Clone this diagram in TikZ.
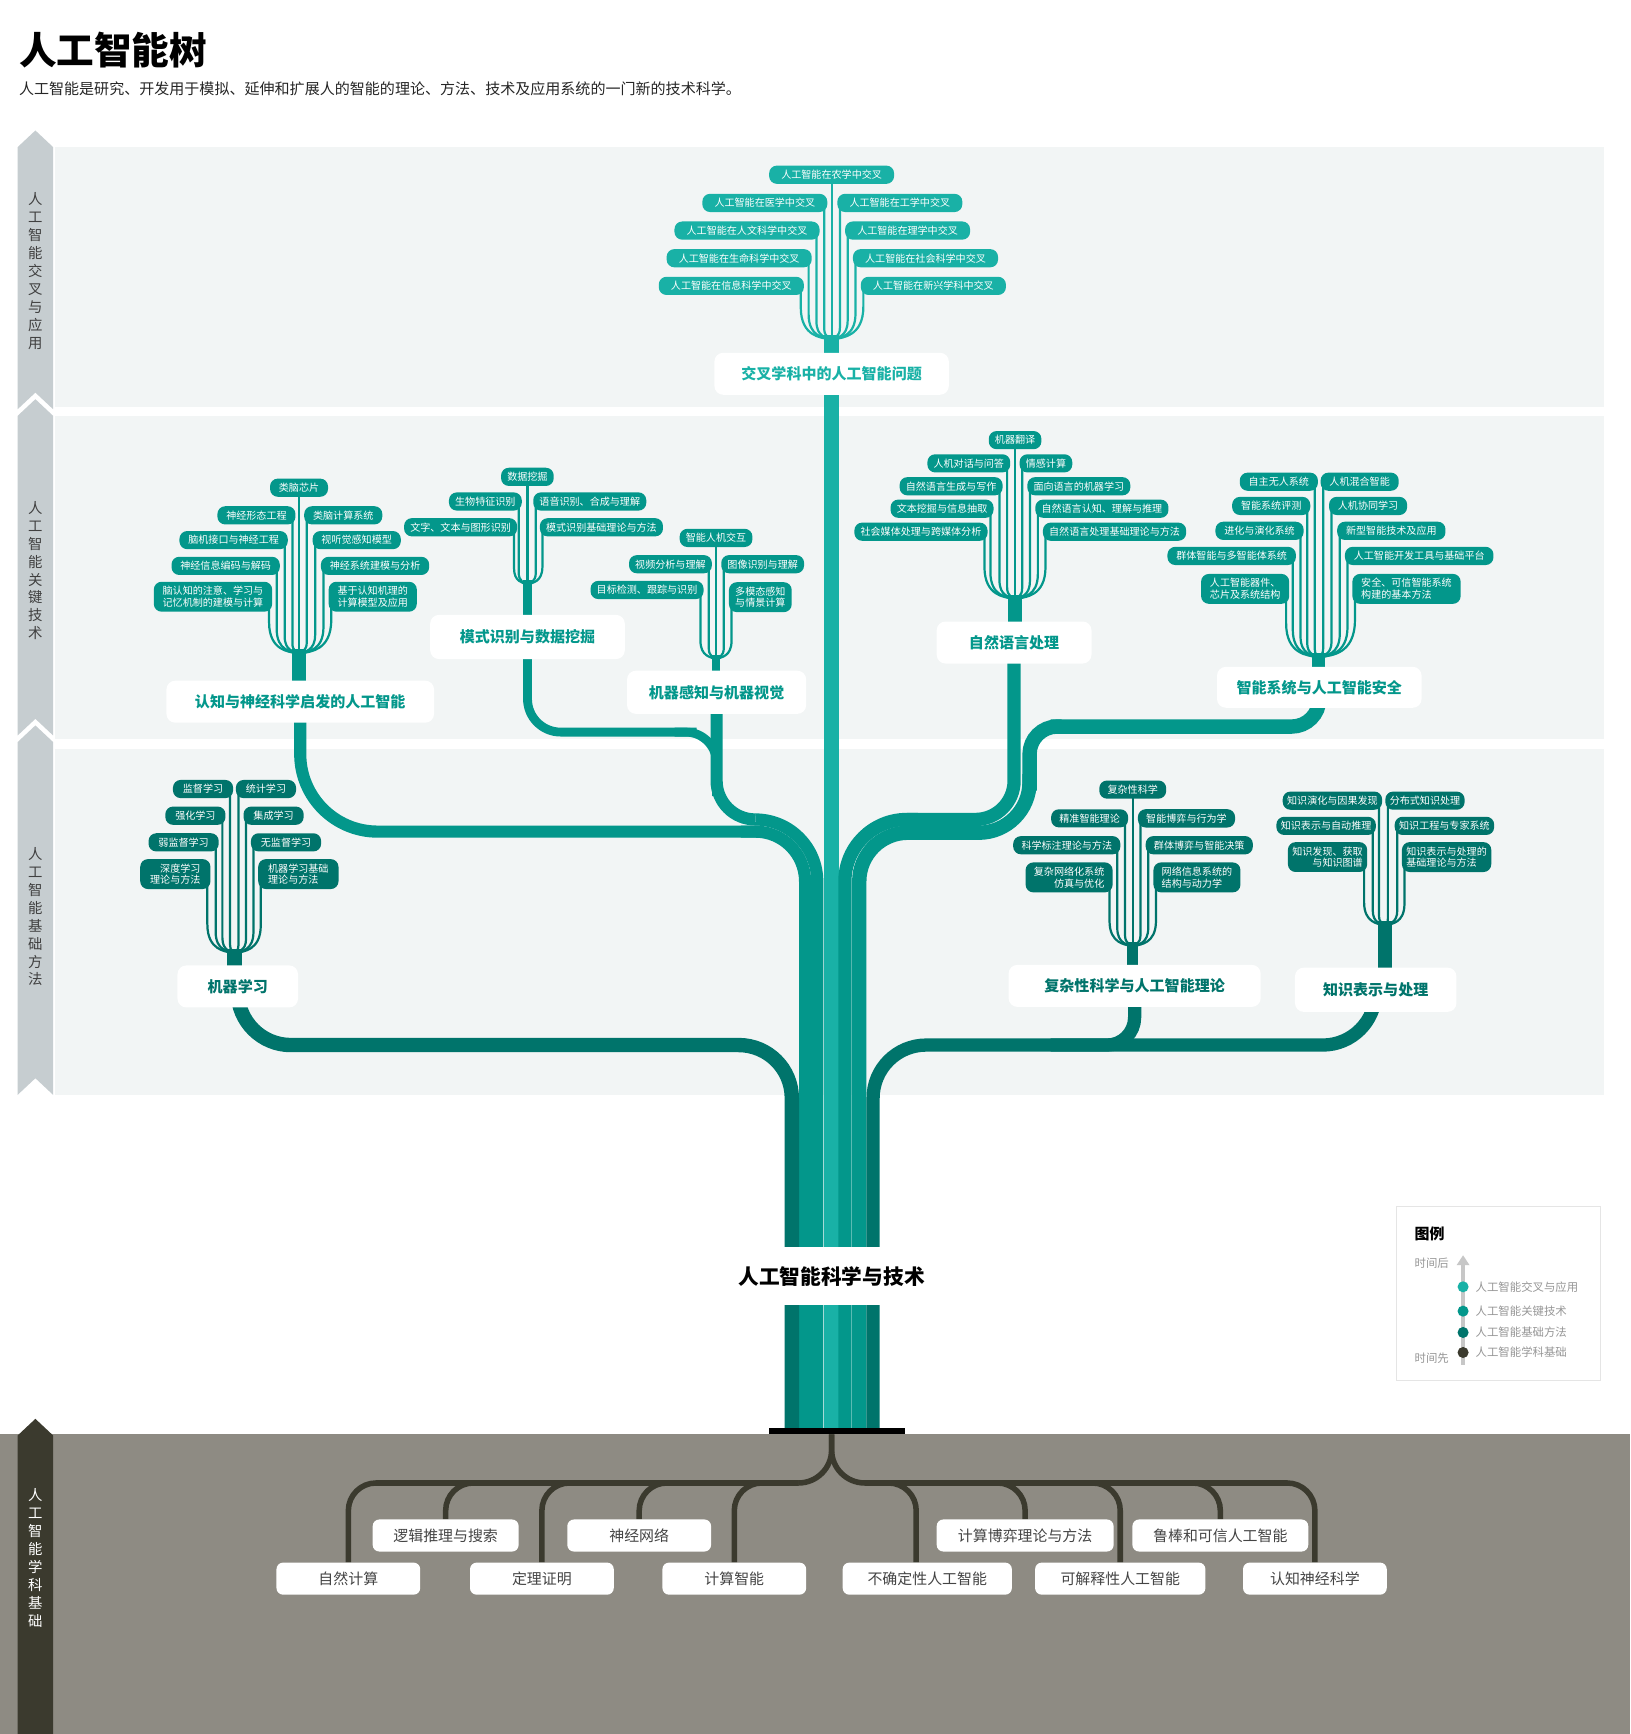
\documentclass[tikz,border=0pt]{standalone}
\usepackage{fontspec}
\setmainfont{Noto Sans CJK SC}
\usepackage{xcolor}
\usepackage{tikz}
\usetikzlibrary{arrows.meta,positioning,calc}
\definecolor{lteal}{RGB}{25,177,166}
\definecolor{mteal}{RGB}{3,151,139}
\definecolor{dteal}{RGB}{0,116,107}
\definecolor{rootcol}{RGB}{59,58,46}
\definecolor{groundcol}{RGB}{142,139,131}
\definecolor{bandcol}{RGB}{242,245,245}
\definecolor{sidecol}{RGB}{198,205,208}
\definecolor{roottext}{RGB}{68,68,68}
\definecolor{legendgray}{RGB}{150,150,150}
\pgfdeclarelayer{bg}
\pgfdeclarelayer{back}
\pgfsetlayers{bg,back,main}
\tikzset{
  twig/.style={fill=#1,text=white,rounded corners=7pt,font=\fontsize{9.1}{10.6}\selectfont,
    inner xsep=8pt,inner ysep=4pt,minimum height=16pt,align=center},
  lefttwig/.style={twig=#1,anchor=east,align=right},
  righttwig/.style={twig=#1,anchor=west,align=left},
  groupbox/.style={fill=white,text=#1,rounded corners=8pt,
    font=\fontsize{13.6}{16}\selectfont\bfseries,minimum height=38pt},
  rootbox/.style={fill=white,text=roottext,rounded corners=6pt,
    font=\fontsize{13.5}{16}\selectfont,minimum height=29pt,minimum width=130pt},
  twigline/.style={draw=#1,line width=2pt},
  branch/.style={draw=#1,line cap=butt},
  rootline/.style={draw=rootcol,line width=5pt,rounded corners=25pt}
}
\newcommand{\fanline}[3]{%
  \draw[twigline=#1] let \p1=#2, \p2=(#3), \n1={abs(\x1-\x2)} in
    (\x1,\y1) -- (\x1,{\y2+0.9*\n1+2pt})
    .. controls (\x1,\y2) and ({\x2+0.3*(\x1-\x2)},\y2) .. ({\x2+0.15*(\x1-\x2)},{\y2-1.5pt});}
\newcommand{\fanL}[3]{\fanline{#1}{([xshift=-3pt]#2.east)}{#3}}
\newcommand{\fanR}[3]{\fanline{#1}{([xshift=2.5pt]#2.west)}{#3}}
\newcommand{\fanC}[3]{\fanline{#1}{(#2.center)}{#3}}

\begin{document}
\begin{tikzpicture}[x=1pt,y=-1pt,
  sidetext/.style={font=\fontsize{13}{16.2}\selectfont,align=center,inner sep=0pt},
  legendtext/.style={font=\fontsize{10.3}{12}\selectfont,text=legendgray,inner sep=0pt,anchor=west},
  legenddot/.style={circle,fill=#1,minimum size=10pt,inner sep=0pt}
]
  \useasboundingbox (0,0) rectangle (1474,1568);

  \node[anchor=west,inner sep=0pt,font=\fontsize{34}{40}\selectfont\bfseries] (title) at (17,45) {人工智能树};
  \node[anchor=west,inner sep=0pt,font=\fontsize{13.6}{16}\selectfont,text=black!85] (subtitle) at (17,80)
    {人工智能是研究、开发用于模拟、延伸和扩展人的智能的理论、方法、技术及应用系统的一门新的技术科学。};

  \node[sidetext,text=black!75] (side1) at (32,245) {人\\工\\智\\能\\交\\叉\\与\\应\\用};
  \node[sidetext,text=black!75] (side2) at (32,516) {人\\工\\智\\能\\关\\键\\技\\术};
  \node[sidetext,text=black!75] (side3) at (32,829) {人\\工\\智\\能\\基\\础\\方\\法};
  \node[sidetext,text=white] (side4) at (32,1409) {人\\工\\智\\能\\学\\科\\基\\础};

  % group labels
  \node[groupbox=lteal,minimum width=212pt] (jc) at (752,338) {交叉学科中的人工智能问题};
  \node[groupbox=mteal,minimum width=242pt] (rz) at (271.5,634.5) {认知与神经科学启发的人工智能};
  \node[groupbox=mteal,minimum width=176pt,minimum height=40pt] (ms) at (477,576) {模式识别与数据挖掘};
  \node[groupbox=mteal,minimum width=162pt,minimum height=39pt] (gz) at (648,626) {机器感知与机器视觉};
  \node[groupbox=mteal,minimum width=140pt] (zr) at (917,581) {自然语言处理};
  \node[groupbox=mteal,minimum width=185pt,minimum height=37pt] (aq) at (1193,621.5) {智能系统与人工智能安全};
  \node[groupbox=dteal,minimum width=109pt] (jx) at (215,892) {机器学习};
  \node[groupbox=dteal,minimum width=228pt] (fz) at (1026,891.5) {复杂性科学与人工智能理论};
  \node[groupbox=dteal,minimum width=146pt,minimum height=40pt] (zs) at (1244,895) {知识表示与处理};

  \coordinate (jcs) at (752,305);
  \coordinate (rzs) at (270.4,589);
  \coordinate (mss) at (476.9,526.6);
  \coordinate (gzs) at (647.5,594);
  \coordinate (zrs) at (917.9,539.6);
  \coordinate (aqs) at (1192.5,592.3);
  \coordinate (jxs) at (212.2,860);
  \coordinate (fzs) at (1024.3,853.7);
  \coordinate (zss) at (1252.5,835);

  \begin{scope}[twig/.append style={inner xsep=11pt}]
    \node[twig=lteal] (jc0) at (752,158) {人工智能在农学中交叉};
    \node[lefttwig=lteal] (jc1) at (748.3,183.5) {人工智能在医学中交叉};
    \node[righttwig=lteal] (jc2) at (757,183.5) {人工智能在工学中交叉};
    \node[lefttwig=lteal] (jc3) at (741.3,208.5) {人工智能在人文科学中交叉};
    \node[righttwig=lteal] (jc4) at (764,208.5) {人工智能在理学中交叉};
    \node[lefttwig=lteal] (jc5) at (734.2,233.5) {人工智能在生命科学中交叉};
    \node[righttwig=lteal] (jc6) at (771.1,233.5) {人工智能在社会科学中交叉};
    \node[lefttwig=lteal] (jc7) at (727.1,258.5) {人工智能在信息科学中交叉};
    \node[righttwig=lteal] (jc8) at (778.2,258.5) {人工智能在新兴学科中交叉};
  \end{scope}

  \begin{scope}[twig/.append style={inner xsep=8pt}]
    \node[twig=mteal] (rz0) at (270.4,441) {类脑芯片};
    \node[lefttwig=mteal] (rz1) at (267.4,466) {神经形态工程};
    \node[righttwig=mteal] (rz2) at (274.9,466) {类脑计算系统};
    \node[lefttwig=mteal] (rz3) at (260.4,488.4) {脑机接口与神经工程};
    \node[righttwig=mteal] (rz4) at (282.5,488.4) {视听觉感知模型};
    \node[lefttwig=mteal] (rz5) at (253.2,511.7) {神经信息编码与解码};
    \node[righttwig=mteal] (rz6) at (290,511.7) {神经系统建模与分析};
    \node[lefttwig=mteal] (rz7) at (246.3,539.6) {脑认知的注意、学习与\\记忆机制的建模与计算};
    \node[righttwig=mteal] (rz8) at (297,539.6) {基于认知机理的\\计算模型及应用};
  \end{scope}

  \begin{scope}[twig/.append style={inner xsep=5.6pt}]
    \node[twig=mteal] (ms0) at (476.9,431.2) {数据挖掘};
    \node[lefttwig=mteal] (ms1) at (472,453.5) {生物特征识别};
    \node[righttwig=mteal] (ms2) at (482,453.5) {语音识别、合成与理解};
    \node[lefttwig=mteal] (ms3) at (467.8,476.8) {文字、文本与图形识别};
    \node[righttwig=mteal] (ms4) at (488,476.8) {模式识别基础理论与方法};
    \node[twig=mteal] (gz0) at (647.5,486.4) {智能人机交互};
    \node[lefttwig=mteal] (gz1) at (643.9,510.2) {视频分析与理解};
    \node[righttwig=mteal] (gz2) at (652,510.2) {图像识别与理解};
    \node[lefttwig=mteal] (gz3) at (636.4,533.5) {目标检测、跟踪与识别};
    \node[righttwig=mteal] (gz4) at (659,540) {多模态感知\\与情景计算};
    \node[twig=mteal] (zr0) at (917.9,398) {机器翻译};
    \node[lefttwig=mteal] (zr1) at (913.7,419) {人机对话与问答};
    \node[righttwig=mteal] (zr2) at (921.8,419) {情感计算};
    \node[lefttwig=mteal] (zr3) at (906.8,439.7) {自然语言生成与写作};
    \node[righttwig=mteal] (zr4) at (928.8,439.7) {面向语言的机器学习};
    \node[lefttwig=mteal] (zr5) at (898.6,460) {文本挖掘与信息抽取};
    \node[righttwig=mteal] (zr6) at (936,460) {自然语言认知、理解与推理};
    \node[lefttwig=mteal] (zr7) at (893.2,480.8) {社会媒体处理与跨媒体分析};
    \node[righttwig=mteal] (zr8) at (942.9,480.8) {自然语言处理基础理论与方法};
  \end{scope}

  \begin{scope}[twig/.append style={inner xsep=8pt}]
    \node[lefttwig=mteal] (aq1) at (1191.9,435.6) {自主无人系统};
    \node[righttwig=mteal] (aq2) at (1194,435.6) {人机混合智能};
    \node[lefttwig=mteal] (aq3) at (1185,457.5) {智能系统评测};
    \node[righttwig=mteal] (aq4) at (1201.6,457.5) {人机协同学习};
    \node[lefttwig=mteal] (aq5) at (1179,480) {进化与演化系统};
    \node[righttwig=mteal] (aq6) at (1209,480) {新型智能技术及应用};
    \node[lefttwig=mteal] (aq7) at (1172,502.7) {群体智能与多智能体系统};
    \node[righttwig=mteal] (aq8) at (1216,502.7) {人工智能开发工具与基础平台};
    \node[lefttwig=mteal] (aq9) at (1166,532.5) {人工智能器件、\\芯片及系统结构};
    \node[righttwig=mteal] (aq10) at (1222.7,532.5) {安全、可信智能系统\\构建的基本方法};
  \end{scope}

  \begin{scope}[twig/.append style={inner xsep=9pt}]
    \node[lefttwig=dteal] (jx1) at (211,713.5) {监督学习};
    \node[righttwig=dteal] (jx2) at (213.1,713.5) {统计学习};
    \node[lefttwig=dteal] (jx3) at (204.1,737.6) {强化学习};
    \node[righttwig=dteal] (jx4) at (220,737.6) {集成学习};
    \node[lefttwig=dteal] (jx5) at (198,761.7) {弱监督学习};
    \node[righttwig=dteal] (jx6) at (226.7,761.7) {无监督学习};
    \node[lefttwig=dteal] (jx7) at (190.5,790.4) {深度学习\\理论与方法};
    \node[righttwig=dteal] (jx8) at (233.3,790.4) {机器学习基础\\理论与方法};
  \end{scope}

  \begin{scope}[twig/.append style={inner xsep=7.5pt}]
    \node[twig=dteal] (fz0) at (1024.3,714) {复杂性科学};
    \node[lefttwig=dteal] (fz1) at (1020.3,740) {精准智能理论};
    \node[righttwig=dteal] (fz2) at (1028.8,740) {智能博弈与行为学};
    \node[lefttwig=dteal] (fz3) at (1013.3,764.3) {科学标注理论与方法};
    \node[righttwig=dteal] (fz4) at (1035.8,764.3) {群体博弈与智能决策};
    \node[lefttwig=dteal] (fz5) at (1006.3,793.4) {复杂网络化系统\\仿真与优化};
    \node[righttwig=dteal] (fz6) at (1042.8,793.4) {网络信息系统的\\结构与动力学};
  \end{scope}

  \begin{scope}[twig/.append style={inner xsep=4pt}]
    \node[lefttwig=dteal] (zs1) at (1250,724) {知识演化与因果发现};
    \node[righttwig=dteal] (zs2) at (1252.5,724) {分布式知识处理};
    \node[lefttwig=dteal] (zs3) at (1244.3,746.8) {知识表示与自动推理};
    \node[righttwig=dteal] (zs4) at (1261,746.8) {知识工程与专家系统};
    \node[lefttwig=dteal] (zs5) at (1236.5,775) {知识发现、获取\\与知识图谱};
    \node[righttwig=dteal] (zs6) at (1267.5,775) {知识表示与处理的\\基础理论与方法};
  \end{scope}

  % trunk and roots
  \node[fill=white,minimum width=205pt,minimum height=52pt,font=\fontsize{18.7}{22}\selectfont\bfseries] (ai) at (752,1154) {人工智能科学与技术};
  \node[fill=black,minimum width=123pt,minimum height=6pt,inner sep=0pt] (base) at (756.5,1294) {};
  \coordinate (t1) at (716,1293);
  \coordinate (t2) at (728,1293);
  \coordinate (t3) at (739,1293);
  \coordinate (t4) at (752,1293);
  \coordinate (t5) at (764,1293);
  \coordinate (t6) at (777,1293);
  \coordinate (t7) at (789.5,1293);
  \coordinate (jl) at (716,945);
  \coordinate (jr) at (789.5,945);
  \coordinate (rt) at (752,1297);
  \coordinate (hl) at (722,1341);
  \coordinate (hr) at (783,1341);

  \node[rootbox] (r1) at (315,1427.5) {自然计算};
  \node[rootbox,minimum width=132pt] (r2) at (403,1388.5) {逻辑推理与搜索};
  \node[rootbox] (r3) at (490,1427.5) {定理证明};
  \node[rootbox] (r4) at (578,1388.5) {神经网络};
  \node[rootbox] (r5) at (664,1427.5) {计算智能};
  \node[rootbox,minimum width=153pt] (r6) at (838.5,1427.5) {不确定性人工智能};
  \node[rootbox,minimum width=160pt] (r7) at (927,1388.5) {计算博弈理论与方法};
  \node[rootbox,minimum width=154pt] (r8) at (1013,1427.5) {可解释性人工智能};
  \node[rootbox,minimum width=159pt] (r9) at (1103.5,1388.5) {鲁棒和可信人工智能};
  \node[rootbox] (r10) at (1189,1427.5) {认知神经科学};

  % legend
  \node[draw=black!10,fill=white,minimum width=184.5pt,minimum height=157pt,inner sep=0pt] (legend) at (1355,1169.6) {};
  \node[anchor=west,inner sep=0pt,font=\fontsize{13.5}{16}\selectfont\bfseries] (legendtitle) at (1279,1116) {图例};
  \node[legendtext] (late) at (1279,1142.5) {时间后};
  \node[legendtext] (early) at (1279,1228) {时间先};
  \coordinate (ta) at (1323,1234);
  \coordinate (tb) at (1323,1135);
  \draw[line width=4pt,black!22,-{Triangle[width=11pt,length=9pt]}] (ta) -- (tb);
  \node[legenddot=lteal] (d1) at (1323,1163.6) {};
  \node[legenddot=mteal] (d2) at (1323,1185.6) {};
  \node[legenddot=dteal] (d3) at (1323,1204.9) {};
  \node[legenddot=rootcol] (d4) at (1323,1223) {};
  \node[legendtext,right=6pt of d1] (l1) {人工智能交叉与应用};
  \node[legendtext,right=6pt of d2] (l2) {人工智能关键技术};
  \node[legendtext,right=6pt of d3] (l3) {人工智能基础方法};
  \node[legendtext,right=6pt of d4] (l4) {人工智能学科基础};

  \begin{pgfonlayer}{back}
    \fanC{lteal}{jc0}{jcs} \fanL{lteal}{jc1}{jcs} \fanR{lteal}{jc2}{jcs}
    \fanL{lteal}{jc3}{jcs} \fanR{lteal}{jc4}{jcs} \fanL{lteal}{jc5}{jcs}
    \fanR{lteal}{jc6}{jcs} \fanL{lteal}{jc7}{jcs} \fanR{lteal}{jc8}{jcs}
    \fanC{mteal}{rz0}{rzs} \fanL{mteal}{rz1}{rzs} \fanR{mteal}{rz2}{rzs}
    \fanL{mteal}{rz3}{rzs} \fanR{mteal}{rz4}{rzs} \fanL{mteal}{rz5}{rzs}
    \fanR{mteal}{rz6}{rzs} \fanL{mteal}{rz7}{rzs} \fanR{mteal}{rz8}{rzs}
    \fanC{mteal}{ms0}{mss} \fanL{mteal}{ms1}{mss} \fanR{mteal}{ms2}{mss}
    \fanL{mteal}{ms3}{mss} \fanR{mteal}{ms4}{mss}
    \fanC{mteal}{gz0}{gzs} \fanL{mteal}{gz1}{gzs} \fanR{mteal}{gz2}{gzs}
    \fanL{mteal}{gz3}{gzs} \fanR{mteal}{gz4}{gzs}
    \fanC{mteal}{zr0}{zrs} \fanL{mteal}{zr1}{zrs} \fanR{mteal}{zr2}{zrs}
    \fanL{mteal}{zr3}{zrs} \fanR{mteal}{zr4}{zrs} \fanL{mteal}{zr5}{zrs}
    \fanR{mteal}{zr6}{zrs} \fanL{mteal}{zr7}{zrs} \fanR{mteal}{zr8}{zrs}
    \fanL{mteal}{aq1}{aqs} \fanR{mteal}{aq2}{aqs} \fanL{mteal}{aq3}{aqs}
    \fanR{mteal}{aq4}{aqs} \fanL{mteal}{aq5}{aqs} \fanR{mteal}{aq6}{aqs}
    \fanL{mteal}{aq7}{aqs} \fanR{mteal}{aq8}{aqs} \fanL{mteal}{aq9}{aqs}
    \fanR{mteal}{aq10}{aqs}
    \fanL{dteal}{jx1}{jxs} \fanR{dteal}{jx2}{jxs} \fanL{dteal}{jx3}{jxs}
    \fanR{dteal}{jx4}{jxs} \fanL{dteal}{jx5}{jxs} \fanR{dteal}{jx6}{jxs}
    \fanL{dteal}{jx7}{jxs} \fanR{dteal}{jx8}{jxs}
    \fanC{dteal}{fz0}{fzs} \fanL{dteal}{fz1}{fzs} \fanR{dteal}{fz2}{fzs}
    \fanL{dteal}{fz3}{fzs} \fanR{dteal}{fz4}{fzs} \fanL{dteal}{fz5}{fzs}
    \fanR{dteal}{fz6}{fzs}
    \fanL{dteal}{zs1}{zss} \fanR{dteal}{zs2}{zss} \fanL{dteal}{zs3}{zss}
    \fanR{dteal}{zs4}{zss} \fanL{dteal}{zs5}{zss} \fanR{dteal}{zs6}{zss}

    \draw[branch=lteal,line width=13pt] ([yshift=2pt]jcs) -- (jc.center);
    \draw[branch=mteal,line width=12pt] ([yshift=2pt]rzs) -- (rzs |- rz.center);
    \draw[branch=mteal,line width=8pt] ([yshift=2pt]mss) -- (mss |- ms.center);
    \draw[branch=mteal,line width=7pt] ([yshift=2pt]gzs) -- (gzs |- gz.center);
    \draw[branch=mteal,line width=13pt] ([yshift=2pt]zrs) -- (zrs |- zr.center);
    \draw[branch=mteal,line width=12pt] ([yshift=2pt]aqs) -- (aqs |- aq.center);
    \draw[branch=dteal,line width=13pt] ([yshift=2pt]jxs) -- (jxs |- jx.center);
    \draw[branch=dteal,line width=10pt] ([yshift=2pt]fzs) -- (fzs |- fz.center);
    \draw[branch=dteal,line width=13pt] ([yshift=2pt]zss) -- (zss |- zs.center);

    \draw[branch=lteal,line width=13pt] (jc.center) -- (t4);
    \draw[branch=mteal,line width=11pt,rounded corners=70pt] (rz.center) |- (690,752);
    \draw[branch=mteal,line width=11pt,rounded corners=45pt] (670,752) -| (t2);
    \draw[branch=mteal,line width=8pt,rounded corners=30pt] (ms.center) |- (630,662);
    \draw[branch=mteal,line width=8pt,rounded corners=28pt] (610,662) -| (648,720);
    \draw[branch=mteal,line width=11pt,rounded corners=35pt] (gz.center) |- (683,741);
    \draw[branch=mteal,line width=11pt,rounded corners=56pt] (683,741) -| (t3);
    \draw[branch=mteal,line width=12pt,rounded corners=35pt] (zr.center) |- (820,741);
    \draw[branch=mteal,line width=12pt,rounded corners=56pt] (830,741) -| (t5);
    \draw[branch=mteal,line width=13pt,rounded corners=25pt] (aq.center) |- (950,657);
    \draw[branch=mteal,line width=13pt,rounded corners=25pt] (960,657) -| (931,715);
    \draw[branch=mteal,line width=13pt,rounded corners=46pt] (931,700) |- (830,753);
    \draw[branch=mteal,line width=13pt,rounded corners=44pt] (840,753) -| (t6);
    \draw[branch=dteal,line width=13pt,rounded corners=48pt] (jx.center) |- (jl) -- (t1);
    \draw[branch=dteal,line width=12pt,rounded corners=48pt] (zs.center) |- (jr) -- (t7);
    \draw[branch=dteal,line width=12pt,rounded corners=25pt] (fz.center) |- (950,945);

    \draw[rootline,rounded corners=30pt] (rt) |- (hl);
    \draw[rootline,rounded corners=30pt] (rt) |- (hr);
    \draw[rootline] (r1.north) |- (hl);
    \draw[rootline] (r2.north) |- (hl);
    \draw[rootline] (r3.north) |- (hl);
    \draw[rootline] (r4.north) |- (hl);
    \draw[rootline] (r5.north) |- (hl);
    \draw[rootline] ([xshift=-10pt]r6.north) |- (hr);
    \draw[rootline] (r7.north) |- (hr);
    \draw[rootline] (r8.north) |- (hr);
    \draw[rootline] (r9.north) |- (hr);
    \draw[rootline] (r10.north) |- (hr);
  \end{pgfonlayer}

  \begin{pgfonlayer}{bg}
    \fill[white] (0,0) rectangle (1474,1568);
    \fill[bandcol] (50,133) rectangle (1450,368);
    \fill[bandcol] (50,376) rectangle (1450,668);
    \fill[bandcol] (50,677) rectangle (1450,990);
    \fill[groundcol] (0,1297) rectangle (1474,1568);
    \fill[sidecol] (16,133) -- (32,118) -- (48,133) -- (48,370) -- (32,355) -- (16,370) -- cycle;
    \fill[sidecol] (16,376) -- (32,361) -- (48,376) -- (48,665) -- (32,650) -- (16,665) -- cycle;
    \fill[sidecol] (16,671) -- (32,656) -- (48,671) -- (48,990) -- (32,975) -- (16,990) -- cycle;
    \fill[rootcol] (16,1298) -- (32,1283) -- (48,1298) -- (48,1568) -- (16,1568) -- cycle;
  \end{pgfonlayer}
\end{tikzpicture}
\end{document}
